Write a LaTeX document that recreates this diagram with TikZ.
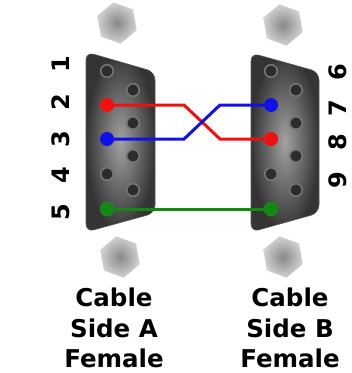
\documentclass[tikz,border=0pt]{standalone}
\usepackage{fontspec}
\setmainfont{DejaVu Sans}
\usetikzlibrary{positioning}
\definecolor{shellrim}{HTML}{555555}
\definecolor{shellout}{HTML}{343434}
\definecolor{shellin}{HTML}{A2A2A2}
\definecolor{pinfill}{HTML}{2C2C2C}
\definecolor{pinrim}{HTML}{747474}
\definecolor{boltin}{HTML}{888888}
\definecolor{boltout}{HTML}{D2D2D2}
\definecolor{wirered}{HTML}{F01010}
\definecolor{wireblue}{HTML}{1010E8}
\definecolor{wiregreen}{HTML}{108A10}

\begin{document}
\begin{tikzpicture}[x=1pt,y=-1pt,semithick]
  \tikzstyle{pin}=[circle,fill=pinfill,draw=pinrim,line width=1.6pt,minimum size=12.5pt,inner sep=0pt]
  \tikzstyle{hot}=[circle,minimum size=14pt,inner sep=0pt]
  \tikzstyle{wire}=[line width=3pt]
  \tikzstyle{num}=[font=\bfseries\fontsize{24}{24}\selectfont,rotate=90,inner sep=0pt]
  \tikzstyle{caption}=[font=\bfseries\fontsize{24.5}{30.5}\selectfont,align=center,inner sep=0pt]
  \useasboundingbox (0,0) rectangle (352,373);

  % bolts
  \foreach \x/\y in {117/23,120/257,283/25,283/257}
    \shade[inner color=boltin,outer color=boltout]
      (\x,\y) +(80:21) -- +(140:21) -- +(200:21) -- +(260:21) -- +(320:21) -- +(20:21) -- cycle;

  % connector shells
  \shade[inner color=shellin,outer color=shellout,draw=shellrim,rounded corners=8pt]
    (86,52) -- (155,72) -- (155,213) -- (86,232) -- cycle;
  \shade[inner color=shellin,outer color=shellout,draw=shellrim,rounded corners=8pt]
    (251,53) -- (319,72) -- (319,213) -- (251,232) -- cycle;

  % pins
  \foreach \i/\y in {1/71,2/105,3/139,4/174,5/209} {
    \node[pin] (a\i) at (107,\y) {};
    \node[pin] (b\i) at (271,\y) {};
  }
  \foreach \i/\y in {6/90,7/123,8/156,9/190} {
    \node[pin] (a\i) at (133,\y) {};
    \node[pin] (b\i) at (296,\y) {};
  }

  % pin numbers
  \foreach \i/\y in {1/64,2/102,3/139,4/175,5/212}
    \node[num] (na\i) at (61,\y) {\i};
  \foreach \i/\y in {6/72,7/108,8/142,9/180}
    \node[num] (nb\i) at (338,\y) {\i};

  % wires
  \draw[wire,wirered] (a2.center) -- ++(77,0) -- ++(36,34) -- (b3.center);
  \draw[wire,wireblue] (a3.center) -- ++(77,0) -- ++(36,-34) -- (b2.center);
  \draw[wire,wiregreen] (a5.center) -- (b5.center);
  \node[hot,fill=wirered] at (a2) {};
  \node[hot,fill=wireblue] at (a3) {};
  \node[hot,fill=wiregreen] at (a5) {};
  \node[hot,fill=wireblue] at (b2) {};
  \node[hot,fill=wirered] at (b3) {};
  \node[hot,fill=wiregreen] at (b5) {};

  % captions
  \node[caption] (sideA) at (114,328) {Cable\\Side A\\Female};
  \node[caption] (sideB) at (290,328) {Cable\\Side B\\Female};
\end{tikzpicture}
\end{document}
